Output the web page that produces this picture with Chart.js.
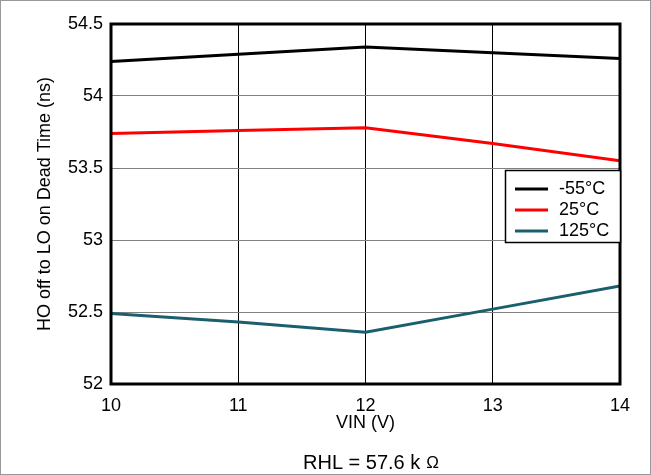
<!DOCTYPE html>
<html>
<head>
<meta charset="utf-8">
<script src="https://cdn.jsdelivr.net/npm/chart.js@4"></script>
<style>
  html, body { margin: 0; padding: 0; background: #fff; }
  #wrap { width: 651px; height: 475px; position: relative; }
</style>
</head>
<body>
<div id="wrap"><canvas id="deadTimeChart" width="651" height="475"></canvas></div>
<script>
// VIN sweep (V)
const vin = [10, 11, 12, 13, 14];
const yTicks = [52, 52.5, 53, 53.5, 54, 54.5];

// dead time (ns) per temperature
const tempLabels = ['-55°C', '25°C', '125°C'];
const deadMinus55 = [54.24, 54.29, 54.34, 54.30, 54.26];
const dead25 = [53.74, 53.76, 53.78, 53.67, 53.55];
const dead125 = [52.49, 52.43, 52.36, 52.52, 52.68];
const lineColors = ['#000000', '#ff0000', '#1b5e6e'];

const FONT = 'Arial, "Liberation Sans", sans-serif';

function toPoints(values) {
    return values.map(function(v, i) { return { x: vin[i], y: v }; });
}

// draws plot frame, in-plot legend, caption and outer border
const framePlugin = {
    id: 'framePlugin',
    afterDatasetsDraw: function(chart) {
        const ctx = chart.ctx;
        const a = chart.chartArea;
        ctx.save();
        ctx.strokeStyle = '#000';
        ctx.lineWidth = 3;
        ctx.strokeRect(a.left, a.top, a.right - a.left, a.bottom - a.top);

        // legend box
        const lx = 505, ly = 170, lw = a.right - 505, lh = 72;
        ctx.fillStyle = '#fff';
        ctx.fillRect(lx, ly, lw, lh);
        ctx.lineWidth = 1.5;
        ctx.strokeRect(lx + 0.5, ly + 0.5, lw, lh);
        ctx.font = '18px ' + FONT;
        ctx.textBaseline = 'middle';
        chart.data.datasets.forEach(function(ds, i) {
            const y = 189 + i * 21;
            ctx.strokeStyle = ds.borderColor;
            ctx.lineWidth = 3;
            ctx.beginPath();
            ctx.moveTo(515, y);
            ctx.lineTo(548, y);
            ctx.stroke();
            ctx.fillStyle = '#000';
            ctx.textAlign = 'left';
            ctx.fillText(ds.label, 559, y);
        });

        // caption
        const part1 = 'RHL = 57.6 k';
        const start = 303;
        ctx.fillStyle = '#000';
        ctx.textAlign = 'left';
        ctx.textBaseline = 'alphabetic';
        ctx.font = '20px ' + FONT;
        const w1 = ctx.measureText(part1).width;
        ctx.fillText(part1, start, 469);
        ctx.font = '17px ' + FONT;
        ctx.fillText('Ω', start + w1 + 6, 468);

        // outer border
        ctx.strokeStyle = '#999';
        ctx.lineWidth = 1;
        ctx.strokeRect(0.5, 0.5, chart.width - 1, chart.height - 1);
        ctx.restore();
    }
};

document.addEventListener('DOMContentLoaded', function() {
    const ctx = document.getElementById('deadTimeChart').getContext('2d');
    const sets = [deadMinus55, dead25, dead125];
    new Chart(ctx, {
        type: 'line',
        data: {
            datasets: sets.map(function(s, i) {
                return {
                    label: tempLabels[i],
                    data: toPoints(s),
                    borderColor: lineColors[i],
                    backgroundColor: lineColors[i],
                    borderWidth: 3,
                    pointRadius: 0,
                    tension: 0,
                    fill: false
                };
            })
        },
        options: {
            responsive: false,
            animation: false,
            layout: { padding: { left: 34, right: 31, top: 24, bottom: 41 } },
            plugins: {
                legend: { display: false },
                tooltip: { enabled: false }
            },
            scales: {
                x: {
                    type: 'linear',
                    min: 10,
                    max: 14,
                    afterBuildTicks: function(scale) {
                        scale.ticks = vin.map(function(v) { return { value: v }; });
                    },
                    afterFit: function(scale) { scale.height = 50; },
                    grid: { color: '#000', lineWidth: 1, drawTicks: false },
                    border: { display: false },
                    ticks: {
                        color: '#000',
                        font: { size: 18, family: FONT },
                        padding: 11,
                        maxRotation: 0,
                        callback: function(v) { return String(v); }
                    },
                    title: {
                        display: true,
                        text: 'VIN (V)',
                        color: '#000',
                        font: { size: 18, family: FONT },
                        padding: { top: 0, bottom: 0 }
                    }
                },
                y: {
                    min: 52,
                    max: 54.5,
                    afterBuildTicks: function(scale) {
                        scale.ticks = yTicks.map(function(v) { return { value: v }; });
                    },
                    afterFit: function(scale) { scale.width = 77; },
                    grid: { color: '#808080', lineWidth: 1, drawTicks: false },
                    border: { display: false },
                    ticks: {
                        color: '#000',
                        font: { size: 18, family: FONT },
                        padding: 8,
                        callback: function(v) { return String(v); }
                    },
                    title: {
                        display: true,
                        text: 'HO off to LO on Dead Time (ns)',
                        color: '#000',
                        font: { size: 18, family: FONT },
                        padding: { top: 0, bottom: 0 }
                    }
                }
            }
        },
        plugins: [framePlugin]
    });
});
</script>
</body>
</html>
